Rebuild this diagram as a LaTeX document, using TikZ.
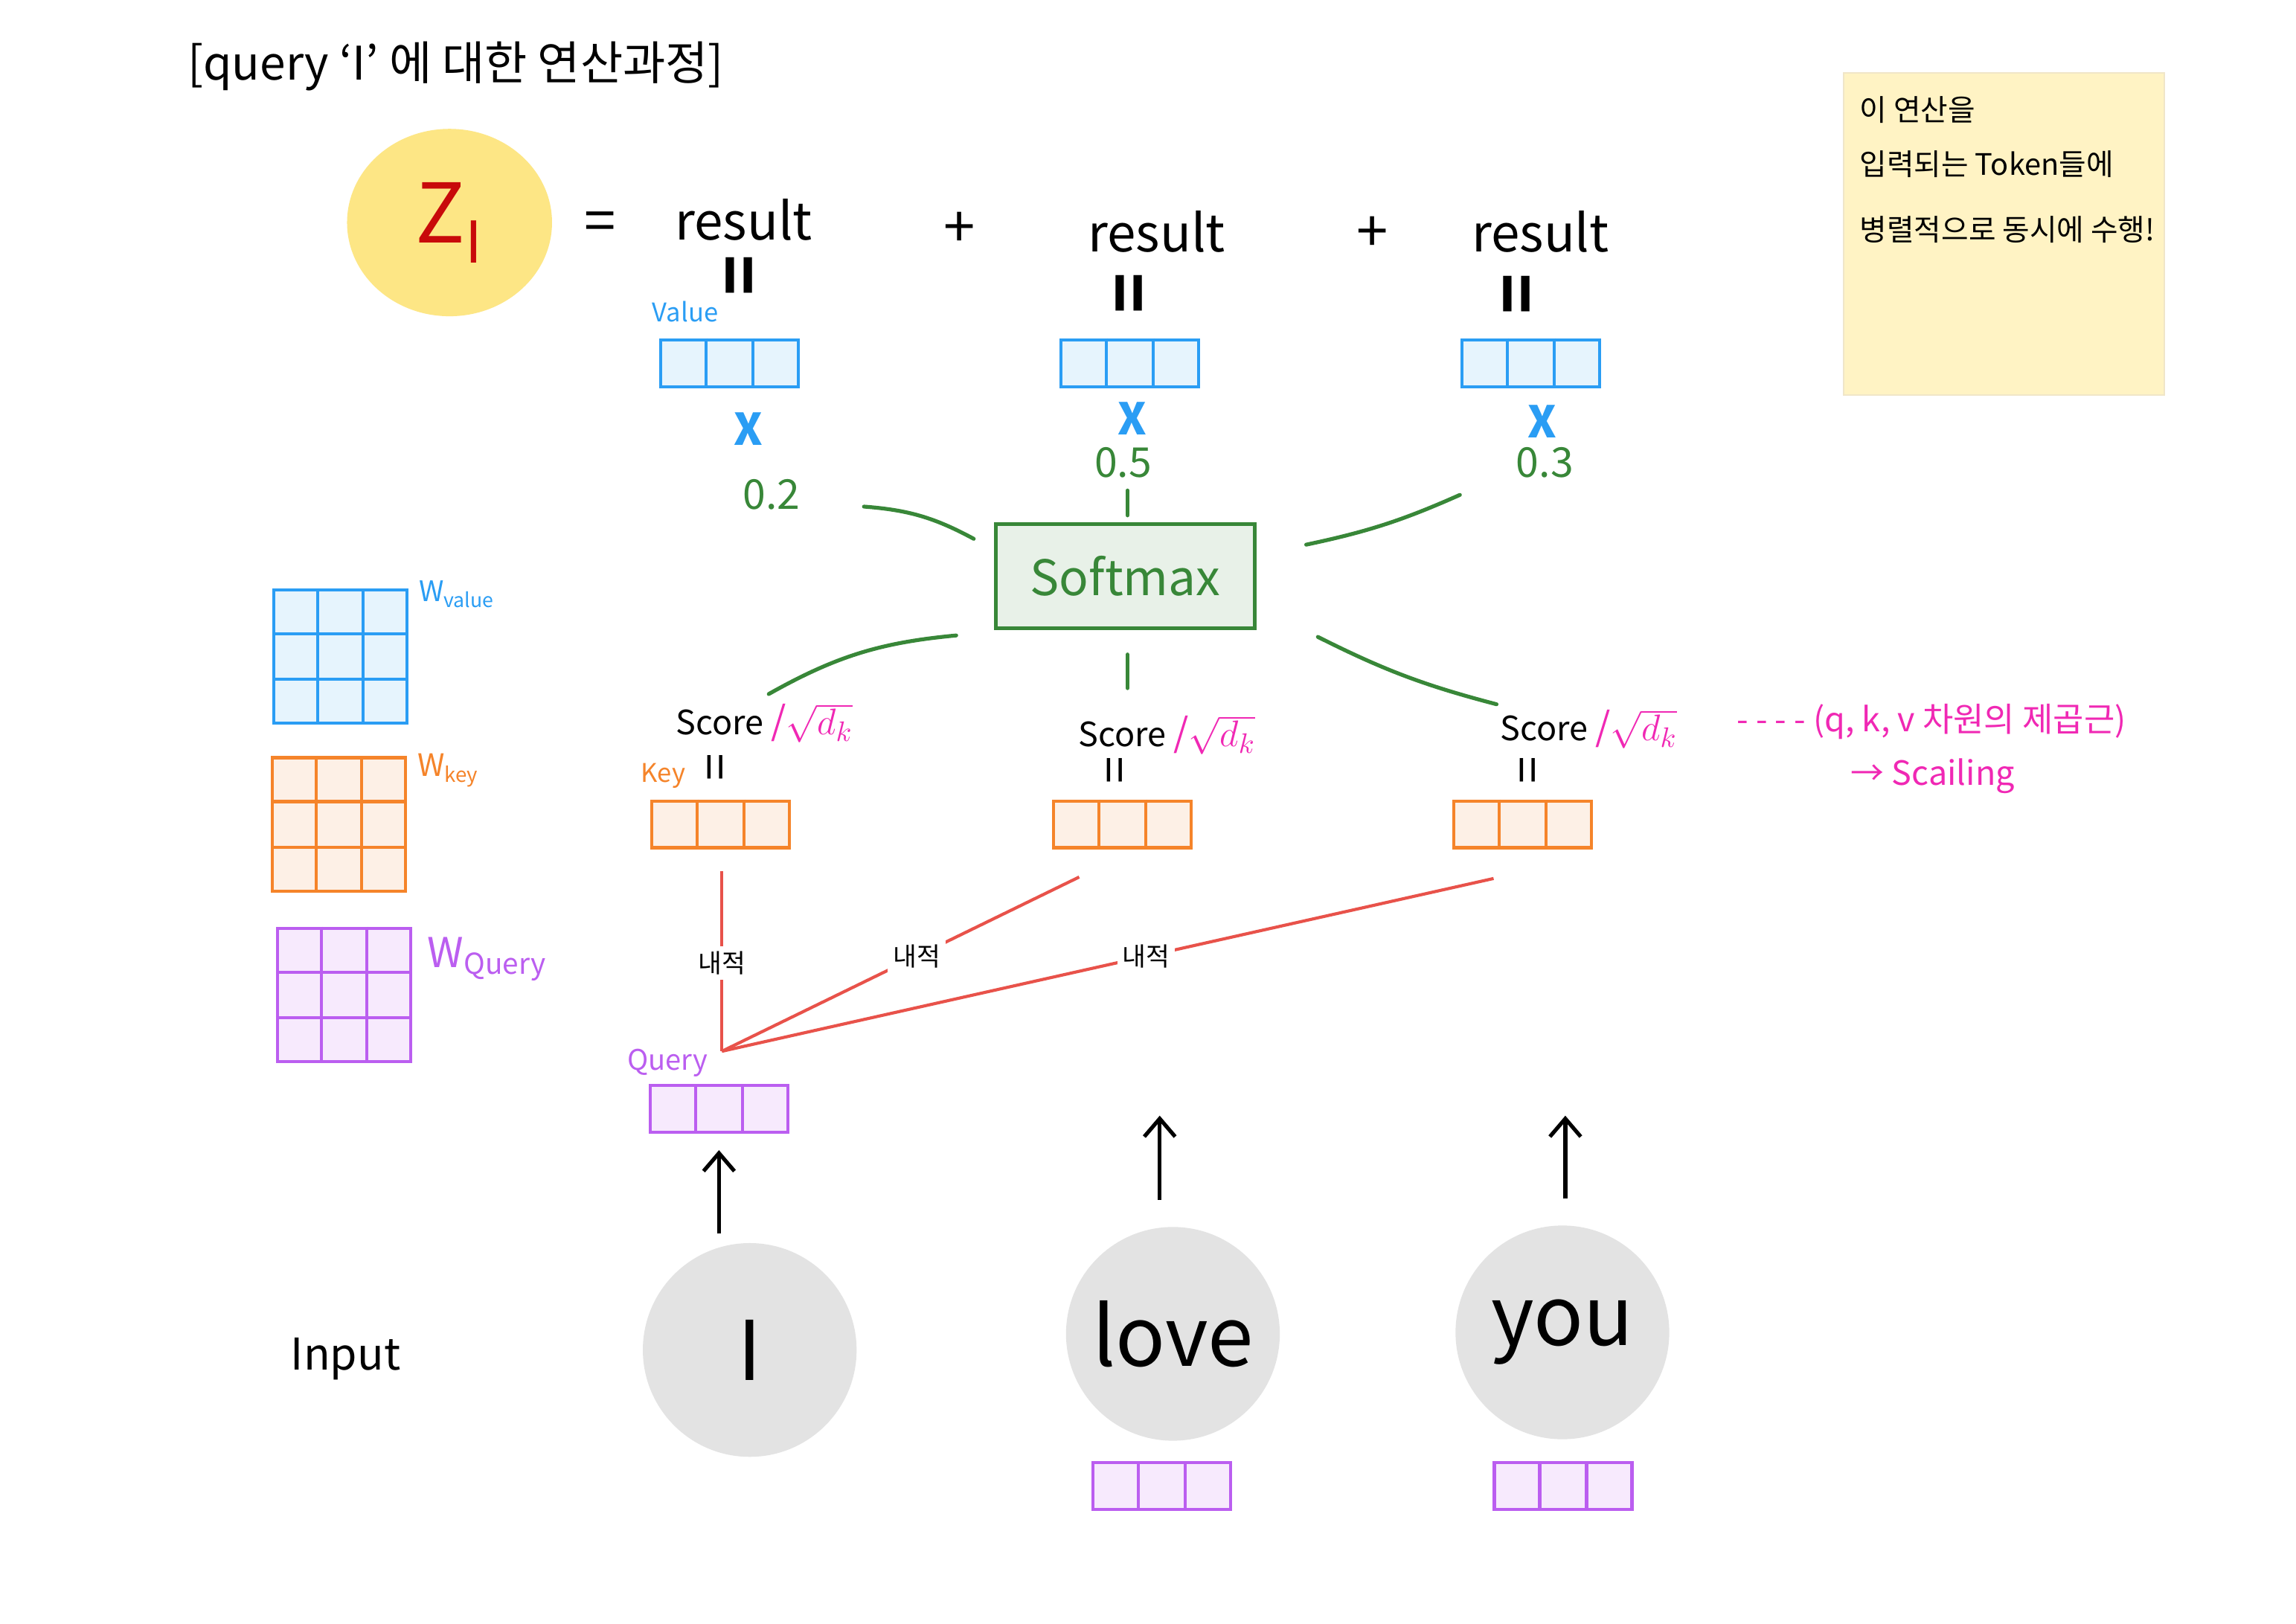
\documentclass[tikz,border=0pt]{standalone}
\usepackage{fontspec}
\setmainfont{Noto Sans CJK KR}
\usetikzlibrary{calc,arrows.meta,shapes.geometric}

\definecolor{vblue}{RGB}{42,157,244}
\definecolor{vbluef}{RGB}{230,244,253}
\definecolor{korange}{RGB}{245,132,42}
\definecolor{korangef}{RGB}{253,240,230}
\definecolor{qpurple}{RGB}{187,94,240}
\definecolor{qpurplef}{RGB}{247,234,253}
\definecolor{sgreen}{RGB}{56,135,56}
\definecolor{sgreenf}{RGB}{232,241,232}
\definecolor{dotred}{RGB}{232,82,74}
\definecolor{mpink}{RGB}{240,40,180}
\definecolor{zred}{RGB}{200,10,10}
\definecolor{blobyel}{RGB}{253,230,133}
\definecolor{notey}{RGB}{255,243,196}
\definecolor{noteb}{RGB}{240,230,200}
\definecolor{tokgray}{RGB}{227,227,227}

\newcommand{\vcells}[2]{%
  \draw[#2, line width=1.2pt] ($(#1.north west)!1/3!(#1.north east)$) -- ($(#1.south west)!1/3!(#1.south east)$)
    ($(#1.north west)!2/3!(#1.north east)$) -- ($(#1.south west)!2/3!(#1.south east)$);}
\newcommand{\mcells}[2]{%
  \vcells{#1}{#2}%
  \draw[#2, line width=1.2pt] ($(#1.north west)!1/3!(#1.south west)$) -- ($(#1.north east)!1/3!(#1.south east)$)
    ($(#1.north west)!2/3!(#1.south west)$) -- ($(#1.north east)!2/3!(#1.south east)$);}
\newcommand{\sqdk}{\textcolor{mpink}{\fontsize{15}{18}\selectfont/$\sqrt{d_k}$}}

\begin{document}
\begin{tikzpicture}[x=0.02cm, y=-0.02cm,
  every node/.style={inner sep=1pt},
  vec/.style={draw, line width=1.2pt, minimum width=1.88cm, minimum height=0.64cm, inner sep=0pt},
  vval/.style={vec, draw=vblue, fill=vbluef},
  vkey/.style={vec, draw=korange, fill=korangef},
  vqry/.style={vec, draw=qpurple, fill=qpurplef},
  mat/.style={draw, line width=1.2pt, minimum width=1.82cm, minimum height=1.82cm, inner sep=0pt},
  res/.style={font=\fontsize{20}{24}\selectfont},
  opr/.style={font=\fontsize{22}{26}\selectfont},
  eqbar/.style={rotate=90, font=\bfseries\fontsize{26}{28}\selectfont},
  eqthin/.style={rotate=90, font=\fontsize{19}{21}\selectfont},
  timesx/.style={text=vblue, font=\bfseries\fontsize{17}{20}\selectfont},
  wnum/.style={text=sgreen, font=\fontsize{16}{19}\selectfont},
  gline/.style={draw=sgreen, line width=1.5pt, line cap=round},
  dotline/.style={draw=dotred, line width=1.2pt},
  dotlab/.style={fill=white, inner sep=2pt, font=\fontsize{10}{12}\selectfont},
  score/.style={font=\fontsize{13}{16}\selectfont},
  uparr/.style={draw=black, line width=1.5pt, -{Straight Barb[length=7pt,width=12pt]}},
  tok/.style={circle, fill=tokgray, minimum size=2.92cm, inner sep=0pt, font=\fontsize{32}{36}\selectfont},
  sticky/.style={draw=noteb, fill=notey, line width=0.6pt, minimum width=4.38cm, minimum height=4.4cm},
  notetxt/.style={anchor=west, font=\fontsize{11.5}{14}\selectfont},
  pinktxt/.style={anchor=west, text=mpink, font=\fontsize{13}{15}\selectfont}
]
\fill[white] (0,0) rectangle (1568,1109);
\useasboundingbox (0,0) rectangle (1568,1109);

% title
\node[anchor=west, font=\fontsize{18}{21}\selectfont] (title) at (126,45) {[query ‘I’ 에 대한 연산과정]};

% sticky note
\node[sticky] (note) at (1368.5,160) {};
\node[notetxt] (note1) at (1268,75) {이 연산을};
\node[notetxt] (note2) at (1268,112) {입력되는 Token들에};
\node[notetxt] (note3) at (1268,157) {병렬적으로 동시에 수행!};

% Z_I equation
\node[ellipse, fill=blobyel, minimum width=2.8cm, minimum height=2.56cm, text=zred, font=\fontsize{32}{36}\selectfont] (z) at (307,152) {Z\textsubscript{I}};
\node[opr] (eq) at (410,155) {=};
\node[res] (res1) at (508,150) {result};
\node[opr] (plus1) at (655,157) {+};
\node[res] (res2) at (790,158) {result};
\node[opr] (plus2) at (937,160) {+};
\node[res] (res3) at (1052,158) {result};
\node[eqbar] (eb1) at (509,188) {=};
\node[eqbar] (eb2) at (775,200) {=};
\node[eqbar] (eb3) at (1040,201) {=};

% value vectors
\node[text=vblue, font=\fontsize{10}{12}\selectfont] (vlab) at (468,213) {Value};
\node[vval] (v1) at (498,248) {};
\node[vval] (v2) at (771.5,248) {};
\node[vval] (v3) at (1045.5,248) {};
\vcells{v1}{vblue}\vcells{v2}{vblue}\vcells{v3}{vblue}

\node[timesx] (x1) at (511,293) {X};
\node[timesx] (x2) at (773,286) {X};
\node[timesx] (x3) at (1053,288) {X};
\node[wnum] (n1) at (527,338) {0.2};
\node[wnum] (n2) at (767,316) {0.5};
\node[wnum] (n3) at (1055,316) {0.3};

% softmax
\node[draw=sgreen, fill=sgreenf, line width=1.4pt, minimum width=3.54cm, minimum height=1.42cm, text=sgreen, font=\fontsize{19}{22}\selectfont] (soft) at (768.5,393.5) {Softmax};
\coordinate (gA1) at (590,346); \coordinate (gA2) at (665,368);
\coordinate (gB1) at (770,335); \coordinate (gB2) at (770,352);
\coordinate (gC1) at (997,338); \coordinate (gC2) at (892,372);
\coordinate (gD1) at (653,434); \coordinate (gD2) at (525,474);
\coordinate (gE1) at (770,447); \coordinate (gE2) at (770,470);
\coordinate (gF1) at (900,435); \coordinate (gF2) at (1022,481);
\draw[gline] (gA1) to[bend left=12] (gA2);
\draw[gline] (gB1) -- (gB2);
\draw[gline] (gC1) to[bend left=6] (gC2);
\draw[gline] (gD1) to[bend right=12] (gD2);
\draw[gline] (gE1) -- (gE2);
\draw[gline] (gF1) to[bend right=6] (gF2);

% scores
\node[score] (s1) at (522,494) {Score \sqdk};
\node[score] (s2) at (797,502) {Score \sqdk};
\node[score] (s3) at (1085,498) {Score \sqdk};
\node[eqthin] (sb1) at (492,524) {=};
\node[eqthin] (sb2) at (765,526) {=};
\node[eqthin] (sb3) at (1047,526) {=};

\node[pinktxt] (ann1) at (1184,493) {- - - - (q, k, v 차원의 제곱근)};
\node[pinktxt] (ann2) at (1262,530) {→ Scailing};

% key vectors
\node[text=korange, font=\fontsize{10}{12}\selectfont] (klab) at (453,530) {Key};
\node[vkey] (k1) at (492,563) {};
\node[vkey] (k2) at (766.5,563) {};
\node[vkey] (k3) at (1040,563) {};
\vcells{k1}{korange}\vcells{k2}{korange}\vcells{k3}{korange}

% weight matrices
\node[mat, draw=vblue, fill=vbluef] (wv) at (232.5,448.5) {};
\mcells{wv}{vblue}
\node[anchor=west, text=vblue, font=\fontsize{11}{13}\selectfont] (wvl) at (284,406) {W\textsubscript{value}};
\node[mat, draw=korange, fill=korangef] (wk) at (231.5,563) {};
\mcells{wk}{korange}
\node[anchor=west, text=korange, font=\fontsize{12}{14}\selectfont] (wkl) at (283,526) {W\textsubscript{key}};
\node[mat, draw=qpurple, fill=qpurplef] (wq) at (235,679.5) {};
\mcells{wq}{qpurple}
\node[anchor=west, text=qpurple, font=\fontsize{16}{19}\selectfont] (wql) at (290,655) {W\textsubscript{Query}};

% dot products
\coordinate (apex) at (493,718);
\coordinate (r1) at (493,595);
\coordinate (r2) at (737,599);
\coordinate (r3) at (1020,600);
\draw[dotline] (apex) -- node[dotlab, pos=0.49] (dp1) {내적} (r1);
\draw[dotline] (apex) -- node[dotlab, pos=0.545] (dp2) {내적} (r2);
\draw[dotline] (apex) -- node[dotlab, pos=0.55] (dp3) {내적} (r3);

% query vector
\node[text=qpurple, font=\fontsize{11}{13}\selectfont] (qlab) at (456,726) {Query};
\node[vqry] (q) at (491,757.5) {};
\vcells{q}{qpurple}

% input tokens
\node[font=\fontsize{17}{20}\selectfont] (inlab) at (236,928) {Input};
\node[tok] (inI) at (512,922) {I};
\node[tok] (inL) at (801,911) {love};
\node[tok] (inY) at (1067,910) {you};

\coordinate (tipL) at (792,762);
\coordinate (tipY) at (1069,762);
\draw[uparr, shorten <=0.12cm, shorten >=0.22cm] (q.south |- inI.north) -- (q.south);
\draw[uparr, shorten <=0.36cm] (inL.north -| tipL) -- (tipL);
\draw[uparr, shorten <=0.36cm] (inY.north -| tipY) -- (tipY);

\node[vqry] (pL) at (793.5,1015) {};
\vcells{pL}{qpurple}
\node[vqry] (pY) at (1067.5,1015) {};
\vcells{pY}{qpurple}
\end{tikzpicture}
\end{document}
